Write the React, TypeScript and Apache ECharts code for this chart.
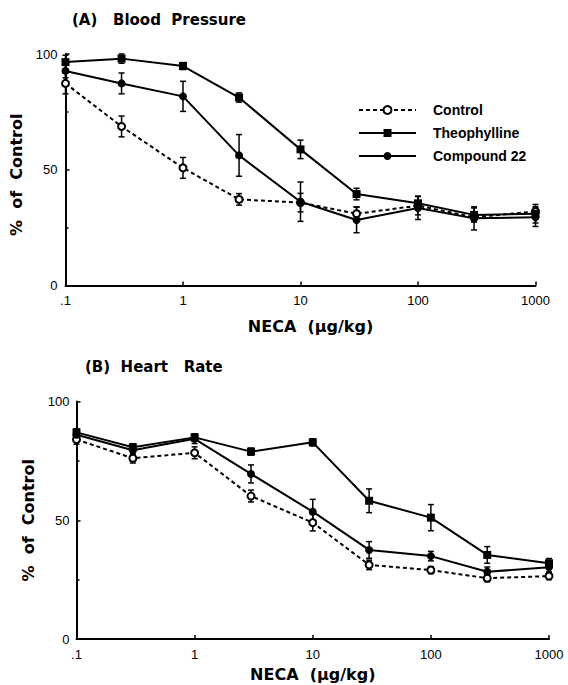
import React, { useEffect, useRef } from "react";
import * as echarts from "echarts";

const doses = [0.1, 0.3, 1, 3, 10, 30, 100, 300, 1000];
const seriesNames = ["Control", "Theophylline", "Compound 22"];
const xTickLabels: Record<string, string> = { "0.1": ".1", "1": "1", "10": "10", "100": "100", "1000": "1000" };

// (A) Blood Pressure, % of control
const bpControl = [87.3, 68.7, 50.8, 37.2, 35.8, 31, 34.5, 29.5, 32];
const bpControlErr = [4.5, 4.5, 4.5, 2.5, 4, 3, 4, 2, 2];
const bpTheo = [96.5, 98, 94.8, 81.2, 58.8, 39.5, 35.5, 30.5, 31];
const bpTheoErr = [3, 2, 1.5, 2, 4, 2.5, 3, 3, 4];
const bpCmpd = [92.7, 87.3, 81.7, 56.2, 36.2, 28.3, 33.5, 29, 29.5];
const bpCmpdErr = [3, 4.5, 6.5, 9, 8.5, 5.5, 5, 5, 4];

// (B) Heart Rate, % of control
const hrControl = [84, 76.1, 78.4, 60.2, 49, 31.2, 29, 25.6, 26.5];
const hrControlErr = [2, 2, 2.5, 2.5, 3.5, 2, 1.5, 1.5, 1.5];
const hrTheo = [87, 80.7, 84.9, 78.9, 82.8, 58.2, 51.1, 35.4, 31.9];
const hrTheoErr = [1.5, 1.5, 1.5, 1.5, 1.5, 5, 5.5, 3.5, 2];
const hrCmpd = [86, 79.5, 84.3, 69.5, 53.6, 37.5, 34.9, 28.3, 30.2];
const hrCmpdErr = [2, 2, 2, 3.8, 5.2, 3.5, 2, 2, 2];

const NB = "\u00a0";

export default function App() {
  const ref = useRef<HTMLDivElement>(null);
  useEffect(() => {
    if (!ref.current) return;
    const chart = echarts.init(ref.current, null, { renderer: "svg" });

    const pts = (ys: number[]) => doses.map((d, i) => [d, ys[i]]);
    const errPts = (ys: number[], es: number[]) => doses.map((d, i) => [d, ys[i], es[i]]);

    const lineSeries = (name: string, ys: number[], idx: number) => {
      const base: any = {
        type: "line",
        name,
        xAxisIndex: idx,
        yAxisIndex: idx,
        data: pts(ys),
        z: 3,
        lineStyle: { color: "#000", width: 2 },
      };
      if (name === "Control") {
        base.symbol = "emptyCircle";
        base.symbolSize = 7;
        base.itemStyle = { color: "#000", borderWidth: 1.5 };
        base.lineStyle = { color: "#000", width: 2, type: [4, 3] };
      } else if (name === "Theophylline") {
        base.symbol = "rect";
        base.symbolSize = 8;
        base.itemStyle = { color: "#000" };
      } else {
        base.symbol = "circle";
        base.symbolSize = 8;
        base.itemStyle = { color: "#000" };
      }
      return base;
    };

    const errSeries = (ys: number[], es: number[], idx: number) => ({
      type: "custom",
      xAxisIndex: idx,
      yAxisIndex: idx,
      z: 2,
      silent: true,
      encode: { x: 0, y: 1 },
      data: errPts(ys, es),
      renderItem: (params: any, api: any) => {
        const x = api.value(0);
        const y = api.value(1);
        const e = api.value(2);
        const top = api.coord([x, y + e]);
        const bot = api.coord([x, y - e]);
        const hw = 3;
        const st = { stroke: "#000", lineWidth: 1.5 };
        return {
          type: "group",
          children: [
            { type: "line", shape: { x1: top[0], y1: top[1], x2: bot[0], y2: bot[1] }, style: st },
            { type: "line", shape: { x1: top[0] - hw, y1: top[1], x2: top[0] + hw, y2: top[1] }, style: st },
            { type: "line", shape: { x1: bot[0] - hw, y1: bot[1], x2: bot[0] + hw, y2: bot[1] }, style: st },
          ],
        };
      },
    });

    const nameStyle = { fontFamily: "DejaVu Sans", fontWeight: "bold", fontSize: 16, color: "#000" };
    const labelStyle = { fontFamily: "Liberation Sans", fontSize: 13, color: "#000" };

    const xAxis = (idx: number, nameGap: number, margin: number, pad: number[]) => ({
      type: "log",
      logBase: 10,
      gridIndex: idx,
      min: 0.1,
      max: 1000,
      name: "NECA" + NB + NB + "(µg/kg)",
      nameLocation: "middle",
      nameGap,
      nameTextStyle: { ...nameStyle, padding: pad },
      axisLine: { onZero: false, lineStyle: { color: "#000", width: 2 } },
      axisTick: { inside: true, length: 4, lineStyle: { color: "#000", width: 1.5 } },
      minorTick: { show: false },
      splitLine: { show: false },
      axisLabel: {
        ...labelStyle,
        margin,
        formatter: (v: number) => {
          const k = String(Number(v.toPrecision(3)));
          return xTickLabels[k] ?? k;
        },
      },
    });

    const yAxis = (idx: number, nameGap: number, margin: number, pad: number[]) => ({
      type: "value",
      gridIndex: idx,
      min: 0,
      max: 100,
      interval: 50,
      name: "%" + NB + NB + "of" + NB + NB + "Control",
      nameLocation: "middle",
      nameGap,
      nameTextStyle: { ...nameStyle, padding: pad },
      axisLine: { show: true, onZero: false, lineStyle: { color: "#000", width: 2 } },
      axisTick: { show: true, inside: true, length: 4, lineStyle: { color: "#000", width: 1.5 } },
      minorTick: { show: true, splitNumber: 2, length: 3, lineStyle: { color: "#000", width: 1.5 } },
      splitLine: { show: false },
      axisLabel: { ...labelStyle, margin },
    });

    chart.setOption({
      animation: false,
      backgroundColor: "#fff",
      title: [
        {
          text: "(A)" + NB + NB + NB + "Blood" + NB + NB + "Pressure",
          left: 72,
          top: 12,
          padding: 0,
          textStyle: { fontFamily: "DejaVu Sans", fontWeight: "bold", fontSize: 15, color: "#000" },
        },
        {
          text: "(B)" + NB + NB + "Heart" + NB + NB + NB + "Rate",
          left: 85,
          top: 359,
          padding: 0,
          textStyle: { fontFamily: "DejaVu Sans", fontWeight: "bold", fontSize: 15, color: "#000" },
        },
      ],
      legend: {
        data: seriesNames,
        orient: "vertical",
        left: 358,
        top: 103,
        padding: 0,
        itemWidth: 57,
        itemHeight: 10,
        itemGap: 9,
        selectedMode: false,
        textStyle: {
          fontFamily: "Liberation Sans",
          fontWeight: "bold",
          fontSize: 14,
          color: "#000",
          padding: [0, 0, 0, 12],
        },
      },
      grid: [
        { left: 65.5, right: 32.5, top: 54, height: 231.5 },
        { left: 76.5, right: 19, top: 401.5, height: 237.5 },
      ],
      xAxis: [xAxis(0, 33, 8, [0, 0, 0, 20]), xAxis(1, 27, 9, [0, 0, 0, 0])],
      yAxis: [yAxis(0, 38, 8, [0, 10, 0, 0]), yAxis(1, 39, 7, [0, 0, 0, 0])],
      series: [
        errSeries(bpControl, bpControlErr, 0),
        errSeries(bpTheo, bpTheoErr, 0),
        errSeries(bpCmpd, bpCmpdErr, 0),
        lineSeries("Control", bpControl, 0),
        lineSeries("Theophylline", bpTheo, 0),
        lineSeries("Compound 22", bpCmpd, 0),
        errSeries(hrControl, hrControlErr, 1),
        errSeries(hrTheo, hrTheoErr, 1),
        errSeries(hrCmpd, hrCmpdErr, 1),
        lineSeries("Control", hrControl, 1),
        lineSeries("Theophylline", hrTheo, 1),
        lineSeries("Compound 22", hrCmpd, 1),
      ],
    });
    return () => chart.dispose();
  }, []);

  return (
    <div
      ref={ref}
      style={{ position: "fixed", left: 0, top: 0, width: 568, height: 685, background: "#fff" }}
    />
  );
}
